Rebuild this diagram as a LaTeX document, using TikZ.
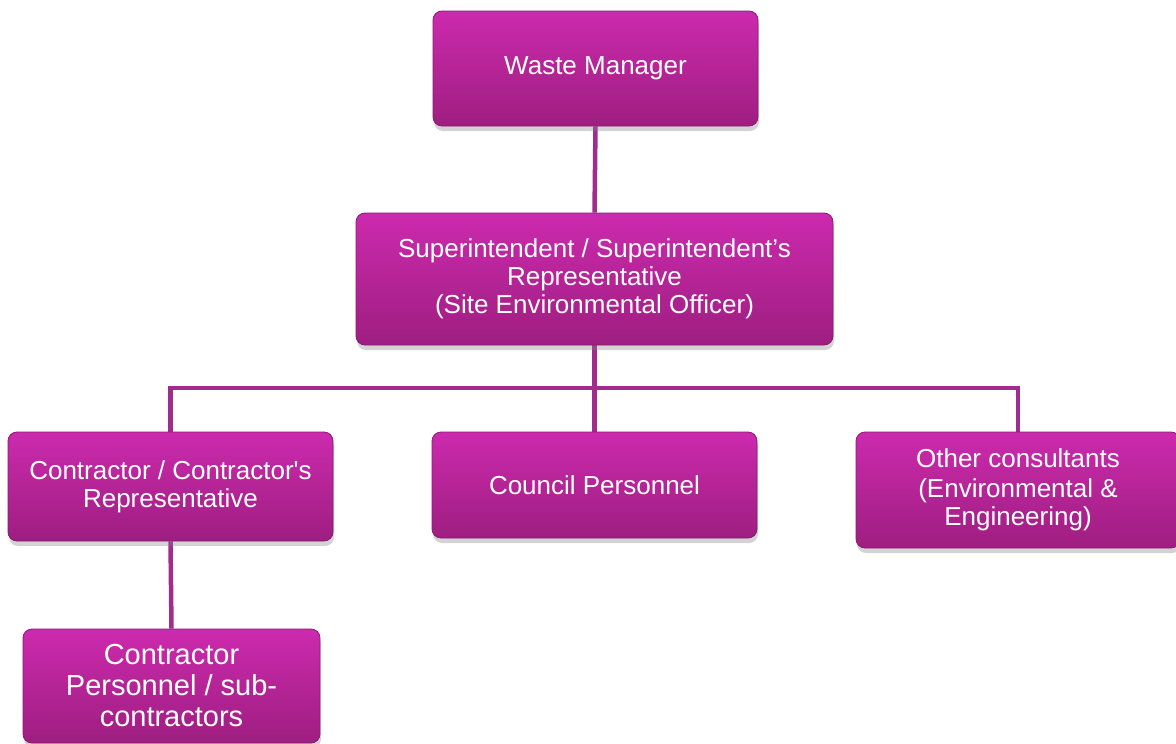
\documentclass[tikz,border=0pt]{standalone}
\usepackage{fontspec}
\setmainfont{Liberation Sans}
\newfontfamily\plainfont{Liberation Sans}
\usetikzlibrary{shadows,backgrounds}
\definecolor{boxtop}{RGB}{204,42,174}
\definecolor{boxbot}{RGB}{158,30,128}
\definecolor{boxedge}{RGB}{140,26,112}
\definecolor{linecol}{RGB}{162,44,142}
\tikzset{
  orgbox/.style={rectangle, rounded corners=9pt, top color=boxtop, bottom color=boxbot,
    draw=boxedge, line width=0.8pt, text=white, align=center, inner sep=4pt,
    font=\fontsize{26}{28}\selectfont,
    drop shadow={opacity=0.35, shadow xshift=1pt, shadow yshift=-5pt}},
  conn/.style={draw=linecol, line width=4.5pt}
}
\begin{document}
\begin{tikzpicture}[x=1pt,y=-1pt]
\useasboundingbox (0,0) rectangle (1176,744);
\node[orgbox, minimum width=325pt, minimum height=115pt] (wm) at (595.5,68.5) {Waste Manager};
\node[orgbox, minimum width=477pt, minimum height=132pt] (sup) at (594.5,279) {Superintendent / Superintendent’s\\Representative\\(Site Environmental Officer)};
\node[orgbox, minimum width=325pt, minimum height=109pt] (con) at (170.5,486.5) {Contractor / Contractor{\plainfont '}s\\Representative};
\node[orgbox, minimum width=325pt, minimum height=106pt] (cou) at (594.5,485) {Council Personnel};
\node[orgbox, minimum width=324pt, minimum height=116pt] (oth) at (1018,490) {Other consultants\\[2pt](Environmental \&\\Engineering)};
\node[orgbox, minimum width=297pt, minimum height=114pt, font=\fontsize{29}{31}\selectfont] (cp) at (171.5,686) {Contractor\\Personnel / sub-\\contractors};
\coordinate (bus) at (594.5,388);
\begin{pgfonlayer}{background}
\draw[conn] (wm.south) -- (sup.north);
\draw[conn] (sup.south) -- (cou.north);
\draw[conn] (con.north) |- (bus) -| (oth.north);
\draw[conn] (con.south) -- (cp.north);
\end{pgfonlayer}
\end{tikzpicture}
\end{document}
